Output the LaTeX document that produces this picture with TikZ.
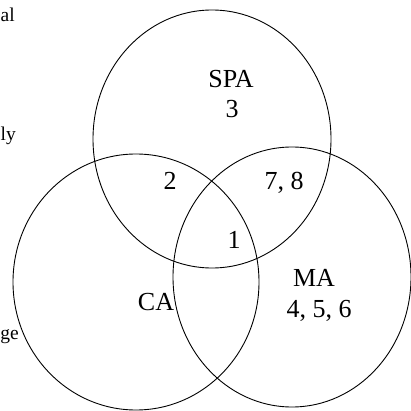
\documentclass[tikz,border=0pt]{standalone}
\usepackage{fontspec}
\setmainfont{Liberation Serif}
\begin{document}
\begin{tikzpicture}[x=1pt,y=-1pt,
  setc/.style={draw=black,line width=0.9pt},
  lab/.style={font=\fontsize{26}{28}\selectfont,anchor=base,inner sep=0pt},
  side/.style={font=\fontsize{19.5}{21}\selectfont,anchor=base west,inner sep=0pt}]
\useasboundingbox (0,0) rectangle (411,411);
\begin{scope}
\clip (0,0) rectangle (411,411);
\draw[setc] (212,139) ellipse [x radius=119, y radius=129];
\draw[setc] (136,282) ellipse [x radius=123, y radius=128];
\draw[setc] (292,277) ellipse [x radius=119, y radius=130];
\end{scope}
\node[side] (t1) at (0.5,22) {al};
\node[side] (t2) at (0.5,141) {ly};
\node[side] (t3) at (0.3,339) {ge};
\node[lab] (spa) at (231,88) {SPA};
\node[lab] (n3) at (232,118) {3};
\node[lab] (n2) at (170,190) {2};
\node[lab] (n78) at (284,190) {7, 8};
\node[lab] (n1) at (234,248) {1};
\node[lab] (ma) at (314,286) {MA};
\node[lab] (n456) at (319,317) {4, 5, 6};
\node[lab] (ca) at (156,310) {CA};
\end{tikzpicture}
\end{document}
